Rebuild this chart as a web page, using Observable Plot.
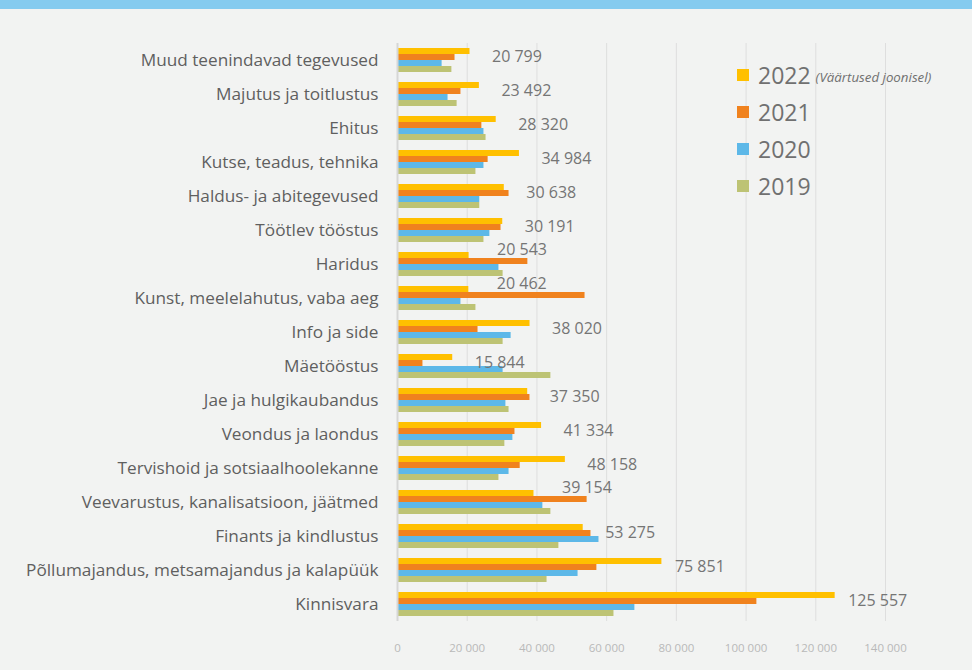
<!DOCTYPE html>
<html>
<head>
<meta charset="utf-8">
<script src="https://cdn.jsdelivr.net/npm/d3@7"></script>
<script src="https://cdn.jsdelivr.net/npm/@observablehq/plot@0.6"></script>
<style>
html, body { margin: 0; padding: 0; background: #f2f3f2; }
#wrap { position: relative; width: 972px; height: 670px; overflow: hidden; background: #f2f3f2; }
#banner { position: absolute; left: 0; top: 0; width: 972px; height: 9px; background: #85cbef; }
#chart { position: absolute; left: 0; top: 0; }
#chart svg text { font-family: "Open Sans", "Noto Sans", sans-serif; }
#chart [aria-label^="fy-axis"] text { font-size: 17.2px; fill: #5f5f5f; }
#chart [aria-label^="x-axis"] text { font-size: 11.5px; fill: #b9b9b9; }
#legend { position: absolute; left: 737px; top: 0; font-family: "Open Sans", "Noto Sans", sans-serif; color: #707070; }
.lg { position: absolute; left: 0; white-space: nowrap; display: flex; align-items: center; height: 30px; }
.sw { width: 12px; height: 12px; margin-right: 9px; }
.yr { font-size: 23px; line-height: 30px; }
.note { font-size: 13.3px; font-style: italic; margin-left: 5px; padding-top: 4px; }
</style>
</head>
<body>
<div id="wrap">
  <div id="chart"></div>
  <div id="banner"></div>
  <div id="legend"></div>
</div>
<script>
const categories = [
  "Muud teenindavad tegevused",
  "Majutus ja toitlustus",
  "Ehitus",
  "Kutse, teadus, tehnika",
  "Haldus- ja abitegevused",
  "Töötlev tööstus",
  "Haridus",
  "Kunst, meelelahutus, vaba aeg",
  "Info ja side",
  "Mäetööstus",
  "Jae ja hulgikaubandus",
  "Veondus ja laondus",
  "Tervishoid ja sotsiaalhoolekanne",
  "Veevarustus, kanalisatsioon, jäätmed",
  "Finants ja kindlustus",
  "Põllumajandus, metsamajandus ja kalapüük",
  "Kinnisvara"
];
const years = ["2022", "2021", "2020", "2019"];
const v2022 = [20799, 23492, 28320, 34984, 30638, 30191, 20543, 20462, 38020, 15844, 37350, 41334, 48158, 39154, 53275, 75851, 125557];
const v2021 = [16500, 18200, 24200, 26000, 32000, 29700, 37400, 53800, 23100, 7300, 38000, 33700, 35200, 54400, 55500, 57200, 103100];
const v2020 = [12800, 14500, 24800, 24800, 23600, 26500, 29100, 18200, 32600, 30300, 31100, 33100, 32000, 41700, 57800, 51800, 68100];
const v2019 = [15600, 17100, 25400, 22500, 23600, 24800, 30300, 22500, 30300, 44000, 32000, 30800, 29100, 44000, 46300, 42900, 62100];
const xTicks = [0, 20000, 40000, 60000, 80000, 100000, 120000, 140000];
const colors = ["#ffc000", "#f0821e", "#5db8e8", "#bdc374"];
const legendNote = "(Väärtused joonisel)";

const series = [v2022, v2021, v2020, v2019];
const rows = categories.flatMap((c, i) =>
  years.map((y, j) => ({category: c, year: y, value: series[j][i], idx: i}))
);
const fmt = d => d3.format(",")(d).replace(/,/g, " ");
const raised = i => v2021[i] > v2022[i] + 5000;

const plot = Plot.plot({
  width: 972,
  height: 670,
  marginLeft: 397,
  marginRight: 87,
  marginTop: 42,
  marginBottom: 48,
  style: {background: "transparent", overflow: "visible"},
  x: {domain: [0, 140000], ticks: xTicks, tickFormat: d => d === 0 ? "0" : fmt(d), tickSize: 0, tickPadding: 22, label: null},
  y: {domain: years, axis: null, paddingInner: 0, paddingOuter: 0.62},
  fy: {domain: categories, padding: 0, label: null, tickSize: 0, tickPadding: 19, axis: "left"},
  color: {domain: years, range: colors},
  facet: {data: rows, y: "category"},
  marks: [
    Plot.ruleX(xTicks.slice(1), {stroke: "#dedede", strokeWidth: 1}),
    Plot.barX(rows, {x: "value", y: "year", fill: "year"}),
    Plot.ruleX([0], {stroke: "#d6d6d6", strokeWidth: 2}),
    Plot.text(rows, {
      filter: d => d.year === "2022" && !raised(d.idx) && d.value < 70000,
      x: "value", y: "year", text: d => fmt(d.value),
      dx: 22, dy: 5, textAnchor: "start", fill: "#757575", fontSize: 16
    }),
    Plot.text(rows, {
      filter: d => d.year === "2022" && !raised(d.idx) && d.value >= 70000,
      x: "value", y: "year", text: d => fmt(d.value),
      dx: 13, dy: 5, textAnchor: "start", fill: "#757575", fontSize: 16
    }),
    Plot.text(rows, {
      filter: d => d.year === "2022" && raised(d.idx),
      x: "value", y: "year", text: d => fmt(d.value),
      dx: 28, dy: -6, textAnchor: "start", fill: "#757575", fontSize: 16
    })
  ]
});
document.getElementById("chart").appendChild(plot);

const legend = document.getElementById("legend");
years.forEach((y, j) => {
  const row = document.createElement("div");
  row.className = "lg";
  row.style.top = (60 + j * 37) + "px";
  const sw = document.createElement("div");
  sw.className = "sw";
  sw.style.background = colors[j];
  const t = document.createElement("span");
  t.className = "yr";
  t.textContent = y;
  row.appendChild(sw);
  row.appendChild(t);
  if (j === 0) {
    const n = document.createElement("span");
    n.className = "note";
    n.textContent = legendNote;
    row.appendChild(n);
  }
  legend.appendChild(row);
});
</script>
</body>
</html>
